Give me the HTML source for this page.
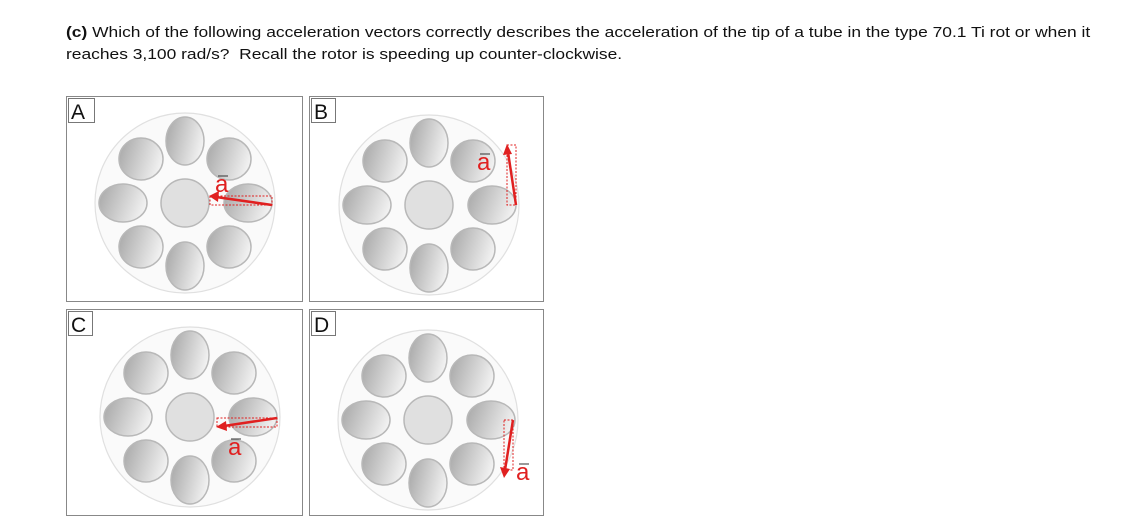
<!DOCTYPE html>
<html><head><meta charset="utf-8"><style>
html,body{margin:0;padding:0;background:#fff;width:1134px;height:528px;overflow:hidden}
.t{position:absolute;left:66px;font-family:"Liberation Sans",sans-serif;font-size:15px;color:#111;white-space:nowrap;transform-origin:0 0;transform:scaleX(1.16)}
svg{position:absolute;left:0;top:0}
</style></head><body>
<div class="t" style="top:24px"><b>(c)</b> Which of the following acceleration vectors correctly describes the acceleration of the tip of a tube in the type 70.1 Ti rot or when it</div>
<div class="t" style="top:46px">reaches 3,100 rad/s?&nbsp; Recall the rotor is speeding up counter-clockwise.</div>
<svg width="1134" height="528" viewBox="0 0 1134 528">
<defs>
<linearGradient id="g" x1="0" y1="0.2" x2="1" y2="0.5"><stop offset="0" stop-color="#a9a9a9"/><stop offset="1" stop-color="#f2f2f2"/></linearGradient>
<g id="rotor">
<circle r="90" fill="#fafafa" stroke="#e0e0e0" stroke-width="1.2"/>
<g stroke="#b8b8b8" stroke-width="1.5" fill="url(#g)">
<ellipse cx="0" cy="0" rx="24" ry="24" fill="#e0e0e0"/>
<ellipse cx="0" cy="-62" rx="19" ry="24"/>
<ellipse cx="0" cy="63" rx="19" ry="24"/>
<ellipse cx="-62" cy="0" rx="24" ry="19"/>
<ellipse cx="63" cy="0" rx="24" ry="19"/>
<ellipse cx="-44" cy="-44" rx="22" ry="21"/>
<ellipse cx="44" cy="-44" rx="22" ry="21"/>
<ellipse cx="-44" cy="44" rx="22" ry="21"/>
<ellipse cx="44" cy="44" rx="22" ry="21"/>
</g></g>
</defs>
<g fill="#fff" stroke="#888" stroke-width="1">
<rect x="66.5" y="96.5" width="236" height="205"/>
<rect x="309.5" y="96.5" width="234" height="205"/>
<rect x="66.5" y="309.5" width="236" height="206"/>
<rect x="309.5" y="309.5" width="234" height="206"/>
</g>
<use href="#rotor" x="185" y="203"/>
<use href="#rotor" x="429" y="205"/>
<use href="#rotor" x="190" y="417"/>
<use href="#rotor" x="428" y="420"/>
<g fill="#fff" stroke="#777" stroke-width="1">
<rect x="68.5" y="98.5" width="26" height="24"/>
<rect x="311.5" y="98.5" width="24" height="24"/>
<rect x="68.5" y="311.5" width="24" height="24"/>
<rect x="311.5" y="311.5" width="24" height="24"/>
</g>
<g font-family="Liberation Sans,sans-serif" font-size="21" fill="#111">
<text x="71" y="119">A</text><text x="314" y="119">B</text><text x="71" y="332">C</text><text x="314" y="332">D</text>
</g>
<g stroke="#e02020" fill="none" stroke-width="1" stroke-dasharray="2,1.5">
<rect x="210" y="196" width="62" height="9"/>
<rect x="507" y="145" width="9" height="60"/>
<rect x="217" y="418" width="60" height="9"/>
<rect x="504" y="420" width="9" height="50"/>
</g>
<g stroke="#e02020" stroke-width="2.5" fill="#e02020">
<line x1="272" y1="205" x2="216" y2="197"/><polygon points="209,196 219,191 218,202" stroke="none"/>
<line x1="516" y1="205" x2="508" y2="152"/><polygon points="507,144 503,155 512,154" stroke="none"/>
<line x1="277" y1="418" x2="224" y2="426"/><polygon points="216,427 226,421 227,431" stroke="none"/>
<line x1="513" y1="420" x2="505" y2="470"/><polygon points="504,478 500,467 510,469" stroke="none"/>
</g>
<g font-family="Liberation Sans,sans-serif" font-size="24" fill="#e02020">
<text x="215" y="192">a</text><text x="477" y="170">a</text><text x="228" y="455">a</text><text x="516" y="480">a</text>
</g>
<g stroke="#333" stroke-width="1">
<line x1="218" y1="176" x2="228" y2="176"/><line x1="480" y1="154" x2="490" y2="154"/><line x1="231" y1="439" x2="241" y2="439"/><line x1="519" y1="464" x2="529" y2="464"/>
</g>
</svg>
</body></html>
